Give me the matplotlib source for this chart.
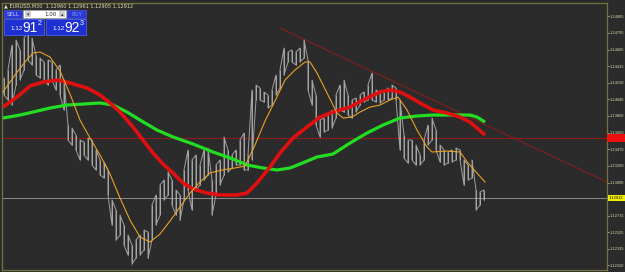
import numpy as np
import matplotlib.pyplot as plt
from matplotlib.patches import Rectangle
from matplotlib.transforms import blended_transform_factory

# EURUSD M30 bars (one entry every 4th bar)
bar_high = [1.14282, 1.14373, 1.14657, 1.14714, 1.14601, 1.14737, 1.14794, 1.14737, 1.14544, 1.14509,
            1.14464, 1.14487, 1.14464, 1.14373, 1.14430, 1.14259, 1.13746, 1.13712, 1.13632, 1.13575,
            1.13553, 1.13598, 1.13575, 1.13462, 1.13348, 1.13325, 1.13234, 1.12892, 1.12778, 1.12721,
            1.12607, 1.12493, 1.12379, 1.12436, 1.12493, 1.12550, 1.12528, 1.12835, 1.12949, 1.13063,
            1.13120, 1.13211, 1.13120, 1.13006, 1.12949, 1.13234, 1.13462, 1.13348, 1.13405, 1.13291,
            1.13462, 1.13484, 1.13120, 1.13291, 1.13348, 1.13610, 1.13462, 1.13405, 1.13462, 1.13575,
            1.13655, 1.13405, 1.14145, 1.14202, 1.14168, 1.14122, 1.14088, 1.14145, 1.14316, 1.14373,
            1.14623, 1.14578, 1.14601, 1.14578, 1.14623, 1.14714, 1.14487, 1.14259, 1.14088, 1.13803,
            1.13826, 1.13860, 1.13917, 1.14088, 1.14202, 1.14259, 1.14088, 1.14031, 1.14054, 1.14088,
            1.14122, 1.14202, 1.14339, 1.14145, 1.14111, 1.14122, 1.14168, 1.14202, 1.14168, 1.14031,
            1.13632, 1.13575, 1.13575, 1.13518, 1.13405, 1.13575, 1.13746, 1.13826, 1.13689, 1.13518,
            1.13462, 1.13439, 1.13462, 1.13484, 1.13462, 1.13348, 1.13291, 1.13348, 1.13006, 1.12983,
            1.13006]
bar_low = [1.14088, 1.14031, 1.13974, 1.14202, 1.14259, 1.14373, 1.14487, 1.14430, 1.14316, 1.14282,
           1.14259, 1.14202, 1.14259, 1.14145, 1.14088, 1.13917, 1.13575, 1.13518, 1.13462, 1.13348,
           1.13405, 1.13348, 1.13291, 1.13234, 1.13177, 1.13143, 1.12949, 1.12607, 1.12436, 1.12493,
           1.12379, 1.12266, 1.12163, 1.12231, 1.12266, 1.12323, 1.12231, 1.12436, 1.12607, 1.12721,
           1.12892, 1.12949, 1.12835, 1.12721, 1.12664, 1.12892, 1.13006, 1.12778, 1.13006, 1.13063,
           1.13120, 1.13177, 1.12721, 1.12949, 1.13063, 1.13177, 1.13211, 1.13257, 1.13291, 1.13291,
           1.13234, 1.13234, 1.13348, 1.14031, 1.14031, 1.14008, 1.13940, 1.13974, 1.14088, 1.14168,
           1.14316, 1.14464, 1.14464, 1.14430, 1.14464, 1.14509, 1.14145, 1.13974, 1.13746, 1.13610,
           1.13667, 1.13689, 1.13712, 1.13826, 1.13917, 1.13894, 1.13860, 1.13826, 1.13894, 1.13974,
           1.14008, 1.14031, 1.14031, 1.14008, 1.13997, 1.14031, 1.14031, 1.14054, 1.14031, 1.13462,
           1.13370, 1.13313, 1.13348, 1.13291, 1.13291, 1.13348, 1.13518, 1.13575, 1.13462, 1.13325,
           1.13291, 1.13313, 1.13325, 1.13348, 1.13348, 1.13063, 1.13120, 1.13143, 1.12778, 1.12835,
           1.12892]

# moving averages, sampled along the curves (x in bar units)
fast_x = [-0.25, 2.75, 5.25, 7.25, 9, 11.5, 14, 16.5, 19, 21.5, 24, 26.5, 29, 31.5, 34, 36.5, 39, 41.5,
          44, 46.5, 49, 51.5, 54.5, 57.75, 60.25, 62.75, 65.25, 67.75, 70.25, 72.75, 75.25, 76.5, 78.25,
          80.75, 83.25, 84.75, 87, 89, 91.5, 94, 96.5, 98.5, 100.75, 103.25, 105.75, 107, 110.75, 114,
          116, 120.25]
fast_ma = [1.14122, 1.14316, 1.14464, 1.14566, 1.14578, 1.14521, 1.14361, 1.14099, 1.13803, 1.13598,
           1.13405, 1.13188, 1.12915, 1.12664, 1.12471, 1.12414, 1.12505, 1.12653, 1.12812, 1.12972,
           1.13097, 1.13200, 1.13234, 1.13257, 1.13279, 1.13518, 1.13792, 1.14020, 1.14259, 1.14373,
           1.14464, 1.14464, 1.14339, 1.14111, 1.13883, 1.13826, 1.13837, 1.13894, 1.13951, 1.13974,
           1.14031, 1.14065, 1.13917, 1.13689, 1.13496, 1.13439, 1.13450, 1.13439, 1.13313, 1.13097]

mid_x = [-0.25, 3.25, 6.5, 9.75, 13.5, 16.5, 20.75, 24, 26.5, 29, 32.25, 34.75, 37.25, 39.75, 42.25,
         44.75, 47.25, 50.75, 54, 58.25, 60.75, 63.25, 66.5, 69, 72.25, 75.75, 79, 82.25, 86.5, 89.75,
         94, 96.5, 99, 101.5, 104, 107.25, 110.75, 114, 116.5, 120.25]
mid_ma = [1.13951, 1.14065, 1.14191, 1.14236, 1.14259, 1.14225, 1.14168, 1.14088, 1.13997, 1.13894,
          1.13724, 1.13575, 1.13427, 1.13302, 1.13200, 1.13086, 1.13017, 1.12972, 1.12949, 1.12949,
          1.12972, 1.13086, 1.13268, 1.13427, 1.13598, 1.13724, 1.13837, 1.13894, 1.13951, 1.14031,
          1.14122, 1.14145, 1.14122, 1.14065, 1.13997, 1.13917, 1.13883, 1.13837, 1.13780, 1.13632]

slow_x = [-0.25, 4, 7.25, 11.5, 15.75, 19.75, 24, 27.25, 30.75, 34, 38.25, 42.25, 47.25, 52.25, 57.25,
          60.75, 64.75, 68.25, 71.5, 74, 78.25, 82.25, 86.5, 90.75, 94.75, 99, 103.25, 107.25, 114,
          116.5, 118.25, 120.25]
slow_ma = [1.13826, 1.13860, 1.13894, 1.13940, 1.13974, 1.13985, 1.13997, 1.13974, 1.13894, 1.13803,
           1.13689, 1.13610, 1.13530, 1.13439, 1.13359, 1.13291, 1.13257, 1.13234, 1.13257, 1.13302,
           1.13382, 1.13416, 1.13541, 1.13655, 1.13746, 1.13826, 1.13849, 1.13860, 1.13860, 1.13860,
           1.13837, 1.13780]

trend_x = [69, 150.75]
trend_y = [1.14851, 1.13097]
level_price = 1.13598
last_price = 1.12912

tick_vals = [1.12150, 1.12335, 1.12525, 1.12715, 1.13090, 1.13280, 1.13470, 1.13660, 1.13850,
             1.14040, 1.14230, 1.14415, 1.14605, 1.14795, 1.14985]

title_txt = "\u25b2 EURUSD,M30  1.12960 1.12961 1.12905 1.12912"

bg = '#2b2b2b'
frame = '#74743f'
axis_font = 'Liberation Sans'

fig = plt.figure(figsize=(6.25, 2.72), dpi=100, facecolor=bg)
ax = fig.add_axes([2 / 625, 2 / 272, 605 / 625, 267 / 272])
ax.set_facecolor(bg)

# price bars drawn as a dense zig-zag between highs and lows
n = len(bar_high)
bx = np.arange(n)
zx = np.repeat(bx, 2)
zy = np.empty(2 * n)
for i in range(n):
    if i % 2 == 0:
        zy[2 * i], zy[2 * i + 1] = bar_high[i], bar_low[i]
    else:
        zy[2 * i], zy[2 * i + 1] = bar_low[i], bar_high[i]
ax.vlines(bx, bar_low, bar_high, color='#c4c4c4', lw=0.6, zorder=2)
ax.plot(zx, zy, color='#a0a0a0', lw=0.7, zorder=2)

ax.axhline(level_price, color='#8a1c1c', lw=0.8, zorder=1)
ax.axhline(last_price, color='#9a9a9a', lw=0.6, zorder=1)
ax.plot(trend_x, trend_y, color='#7a2020', lw=0.9, zorder=1)

ax.plot(slow_x, slow_ma, color='#22dd22', lw=2.3, solid_capstyle='butt', zorder=3)
ax.plot(mid_x, mid_ma, color='#e01010', lw=2.6, solid_capstyle='butt', zorder=4)
ax.plot(fast_x, fast_ma, color='#e8a326', lw=0.8, zorder=5)

ax.set_xlim(-0.5, 150.75)
ax.set_ylim(1.12095, 1.15136)
ax.set_xticks([])
ax.yaxis.tick_right()
ax.set_yticks(tick_vals)
ax.set_yticklabels(['%.5f' % v for v in tick_vals], family=axis_font)
ax.tick_params(axis='y', labelsize=2.9, colors='#d8d8a8', length=1.2, width=0.5, pad=0.5)
for s in ax.spines.values():
    s.set_color(frame)
    s.set_linewidth(0.9)

tr = blended_transform_factory(ax.transAxes, ax.transData)
ax.text(1.003, last_price, '%.5f' % last_price, transform=tr, fontsize=2.9, color='black',
        va='center', ha='left', clip_on=False, zorder=6, family=axis_font,
        bbox=dict(boxstyle='square,pad=0.3', fc='#f0f000', ec='none'))
ax.text(1.003, level_price, '%.5f' % level_price, transform=tr, fontsize=2.9, color='#ee1010',
        va='center', ha='left', clip_on=False, zorder=6, family=axis_font,
        bbox=dict(boxstyle='square,pad=0.45', fc='#ee1010', ec='none'))

# trade panel overlay, in pixel coordinates
ov = fig.add_axes([0, 0, 1, 1], zorder=10)
ov.set_xlim(0, 625)
ov.set_ylim(272, 0)
ov.axis('off')

ov.text(4, 5.5, title_txt, fontsize=3.6, color='#e0e0b0', va='center', ha='left')

ov.add_patch(Rectangle((4, 10), 18, 8, fc='#2b3ad6', ec='#5060f0', lw=0.4))
ov.text(13, 14.2, 'SELL', fontsize=4, color='#c8d0ff', ha='center', va='center')
ov.add_patch(Rectangle((23, 10), 43, 8, fc='white', ec='#aaaaaa', lw=0.4))
ov.add_patch(Rectangle((25, 11), 6, 6, fc='#d0d0d0', ec='none'))
ov.add_patch(Rectangle((59, 11), 6, 6, fc='#d0d0d0', ec='none'))
ov.text(28, 14.2, '\u25be', fontsize=3.5, color='#333333', ha='center', va='center')
ov.text(62, 14.2, '\u25b4', fontsize=3.5, color='#333333', ha='center', va='center')
ov.text(57, 14.2, '1.00', fontsize=4, color='#222222', ha='right', va='center')
ov.add_patch(Rectangle((67, 10), 19, 8, fc='#2b3ad6', ec='#5060f0', lw=0.4))
ov.text(76.5, 14.2, 'BUY', fontsize=4, color='#7888f0', ha='center', va='center')

panel_font = 'Liberation Sans'
for x0, big, small in [(4, '91', '2'), (46, '92', '3')]:
    ov.add_patch(Rectangle((x0, 19), 40, 16, fc='#1f30d2', ec='#5a6aff', lw=0.5))
    ov.text(x0 + 6, 30.5, '1.12', fontsize=4.5, color='white', ha='left', va='baseline',
            family=panel_font)
    ov.text(x0 + 18, 32, big, fontsize=10, color='white', ha='left', va='baseline',
            family=panel_font)
    ov.text(x0 + 33.5, 25, small, fontsize=5, color='white', ha='left', va='baseline',
            family=panel_font)

fig.savefig('out.png', dpi=100, facecolor=bg)
